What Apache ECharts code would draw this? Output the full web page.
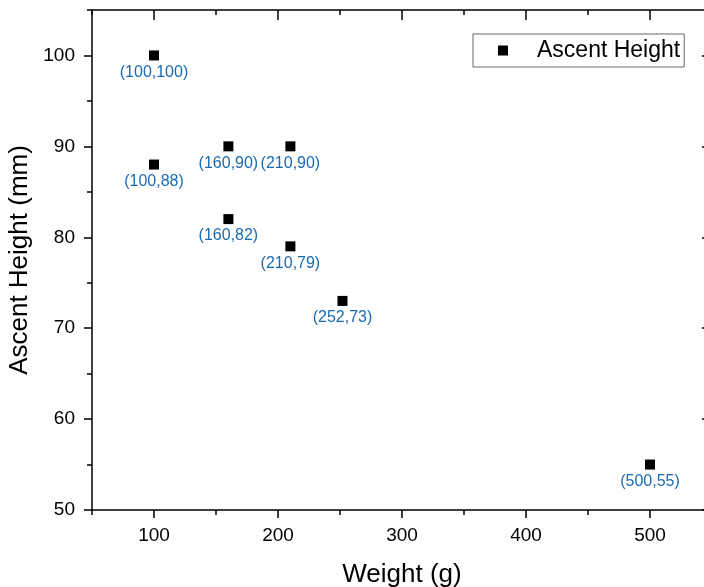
<!DOCTYPE html>
<html><head><meta charset="utf-8">
<script src="https://cdn.jsdelivr.net/npm/echarts@6/dist/echarts.min.js"></script>
<style>html,body{margin:0;padding:0;background:#fff}#c{width:704px;height:587px}</style>
</head><body><div id="c"></div>
<script>
const weights = [100, 100, 160, 210, 160, 210, 252, 500];
const heights = [100, 88, 90, 90, 82, 79, 73, 55];
const seriesName = 'Ascent Height';
const xTitle = 'Weight (g)';
const yTitle = 'Ascent Height (mm)';
const xMajorTicks = [100, 200, 300, 400, 500];
const xMinorTicks = [50, 150, 250, 350, 450, 550];
const yMajorTicks = [50, 60, 70, 80, 90, 100];
const yMinorTicks = [55, 65, 75, 85, 95, 105];

const pts = weights.map((w, i) => [w, heights[i]]);
const font = 'Arial, "Liberation Sans", sans-serif';
const chart = echarts.init(document.getElementById('c'));
const lw = 1.5;
const tickStyle = {color: '#000', width: lw};

function mkAxis(kind, pos, min, max, interval, ticks, len, inside, withLine, labels, name) {
  const a = {
    type: 'value', min: min, max: max, interval: interval, position: pos,
    axisLine: {show: withLine, onZero: false, lineStyle: {color: '#000', width: lw}},
    axisTick: {show: true, inside: inside, length: len, customValues: ticks, lineStyle: tickStyle},
    axisLabel: {show: false},
    splitLine: {show: false}
  };
  if (labels) {
    a.axisLabel = {show: true, customValues: ticks, fontFamily: font, fontSize: 19, color: '#000',
      margin: kind === 'x' ? 16 : 17};
  }
  if (name) {
    a.name = name; a.nameLocation = 'middle';
    a.nameGap = kind === 'x' ? 52 : 54;
    a.nameTextStyle = {fontFamily: font, fontSize: 26, color: '#000'};
  }
  return a;
}

chart.setOption({
  animation: false,
  grid: {left: 92, top: 10, width: 620, height: 500, outerBoundsMode: 'none', containLabel: false},
  legend: {
    left: 473, top: 34, orient: 'vertical',
    data: [{name: seriesName, icon: 'rect'}],
    itemWidth: 10, itemHeight: 10,
    borderColor: '#666', borderWidth: 1, borderRadius: 0,
    padding: [5, 4, 5, 25],
    textStyle: {fontFamily: font, fontSize: 23, color: '#000', padding: [0, 0, 0, 24]}
  },
  xAxis: [
    mkAxis('x', 'bottom', 50, 550, 50, xMajorTicks, 8, false, true, true, xTitle),
    mkAxis('x', 'bottom', 50, 550, 50, xMinorTicks, 5, false, false, false, null),
    mkAxis('x', 'top', 50, 550, 50, xMajorTicks, 10, true, true, false, null),
    mkAxis('x', 'top', 50, 550, 50, xMinorTicks, 5, true, false, false, null)
  ],
  yAxis: [
    mkAxis('y', 'left', 50, 105, 5, yMajorTicks, 8, false, true, true, yTitle),
    mkAxis('y', 'left', 50, 105, 5, yMinorTicks, 5, false, false, false, null),
    mkAxis('y', 'right', 50, 105, 5, yMajorTicks, 10, true, true, false, null),
    mkAxis('y', 'right', 50, 105, 5, yMinorTicks, 5, true, false, false, null)
  ],
  series: [{
    name: seriesName, type: 'scatter', data: pts, xAxisIndex: 0, yAxisIndex: 0,
    symbol: 'rect', symbolSize: 10,
    itemStyle: {color: '#000', opacity: 1},
    label: {show: true, position: 'bottom', distance: 4,
      fontFamily: font, fontSize: 16, color: '#1a6ab0',
      formatter: p => '(' + p.value[0] + ',' + p.value[1] + ')'}
  }]
});
</script></body></html>
